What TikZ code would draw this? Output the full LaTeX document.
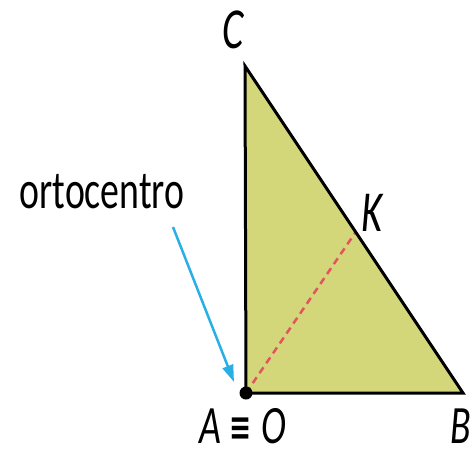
\documentclass[tikz,border=0pt]{standalone}
\usepackage{fontspec}
\setmainfont{Carlito}
\newfontfamily\djfont{DejaVu Sans}
\usetikzlibrary{arrows.meta}
\definecolor{trifill}{RGB}{212,214,122}
\definecolor{arrblue}{RGB}{40,175,230}
\definecolor{dashred}{RGB}{225,85,95}
\newcommand\narrow[1]{\scalebox{0.7}[1]{#1}}
\begin{document}
\begin{tikzpicture}[x=1pt,y=-1pt,
  lbl/.style={inner sep=0pt, anchor=base, font=\fontsize{58}{62}\selectfont\itshape},
  lowlbl/.style={inner sep=0pt, anchor=base, font=\fontsize{54}{56}\selectfont\itshape},
  txt/.style={inner sep=0pt, anchor=base, font=\fontsize{54}{58}\selectfont},
  side/.style={line width=3pt, line join=miter},
  alt/.style={dashred, line width=2.5pt, dash pattern=on 7pt off 5pt},
  pointer/.style={arrblue, line width=2.5pt, -{Triangle[length=17pt,width=11pt]}}]
\useasboundingbox (0,0) rectangle (474,458);
\coordinate (A) at (246,393);
\coordinate (B) at (463,393);
\coordinate (C) at (245,66);
\coordinate (K) at (355.7,232);
\fill[trifill] (A)--(B)--(C)--cycle;
\draw[alt] (A)--(K);
\draw[side] (A)--(B)--(C)--cycle;
\fill (A) circle (6.5);
\node[lbl] (labC) at (233,48) {\narrow{C}};
\node[lbl] (labK) at (372,231) {\narrow{K}};
\node[lowlbl] (labA) at (210,443) {\narrow{A}};
\node[inner sep=0pt] (eq) at (241,429) {\scalebox{1.1}[1.6]{\fontsize{24}{26}\selectfont\djfont\bfseries ≡}};
\node[lowlbl] (labO) at (274,443) {\narrow{O}};
\node[lowlbl] (labB) at (461,443) {\narrow{B}};
\node[txt] (orto) at (102,208) {\narrow{ortocentro}};
\coordinate (pstart) at (173,227);
\coordinate (ptip) at (234,382);
\draw[pointer] (pstart) -- (ptip);
\end{tikzpicture}
\end{document}
